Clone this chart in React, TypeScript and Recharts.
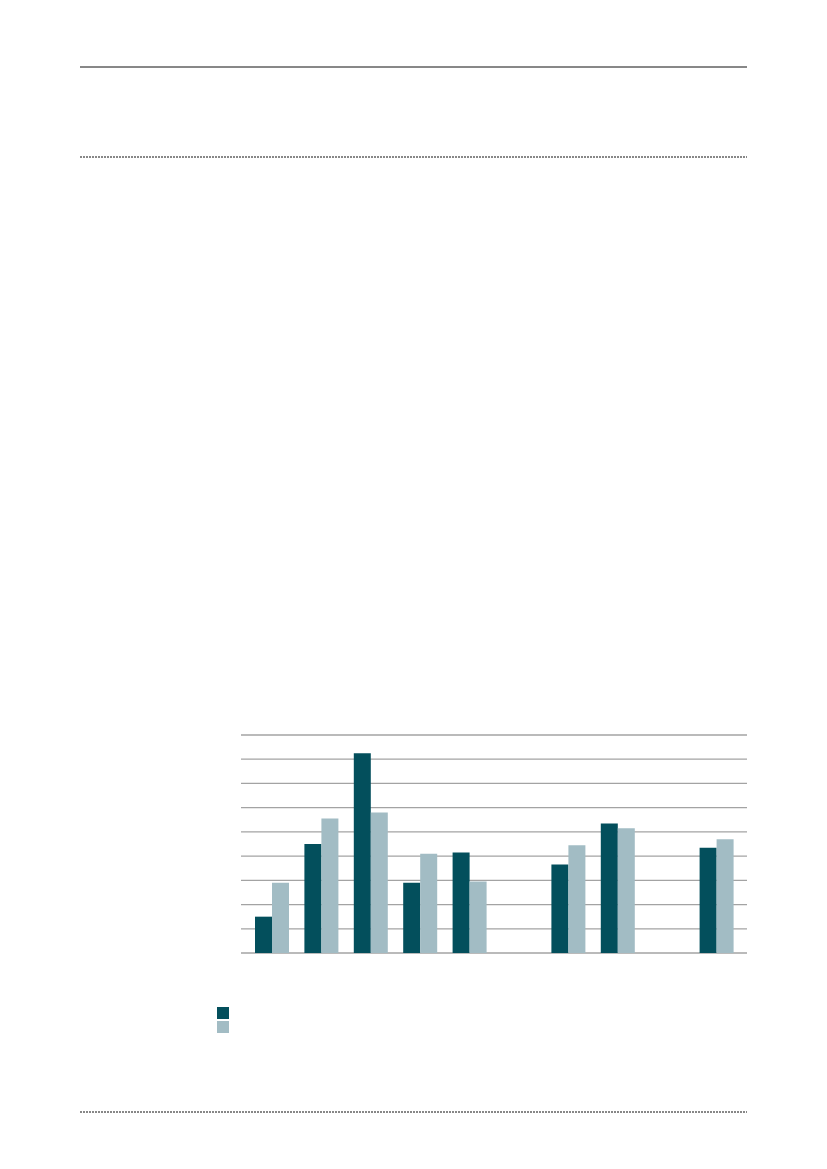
import React from "react";
import { BarChart, Bar, XAxis, YAxis, CartesianGrid } from "recharts";

// categories carry no visible labels in the source; two slots are empty
const categories = ["c1", "c2", "c3", "c4", "c5", "c6", "c7", "c8", "c9", "c10"];
const seriesA = [1.5, 4.5, 8.25, 2.9, 4.15, null, 3.65, 5.35, null, 4.35];
const seriesB = [2.9, 5.55, 5.8, 4.1, 2.95, null, 4.45, 5.15, null, 4.7];
const yTicks = [0, 1, 2, 3, 4, 5, 6, 7, 8, 9];

const DARK = "#034f5c";
const LIGHT = "#a2bcc4";

const data = categories.map((c, i) => ({ name: c, a: seriesA[i], b: seriesB[i] }));

function Rule({ top, dotted }: { top: number; dotted?: boolean }) {
  return (
    <svg style={{ position: "absolute", left: 80, top: top - 1, overflow: "visible" }} width={667} height={2}>
      <line
        x1={0}
        x2={667}
        y1={1}
        y2={1}
        stroke="#111"
        strokeWidth={1}
        strokeDasharray={dotted ? "2 1" : undefined}
      />
    </svg>
  );
}

export default function App() {
  return (
    <div style={{ position: "absolute", left: 0, top: 0, width: 827, height: 1169, background: "#fff" }}>
      <Rule top={67} />
      <Rule top={157} dotted />
      <Rule top={1112} dotted />

      <div style={{ position: "absolute", left: 236, top: 730 }}>
        <BarChart
          width={516}
          height={228}
          data={data}
          margin={{ top: 5, right: 5, left: 5, bottom: 5 }}
          barGap={0}
        >
          <CartesianGrid vertical={false} stroke="#a3a3a3" strokeWidth={1.3} />
          <XAxis dataKey="name" hide padding={{ left: 6, right: 6 }} />
          <YAxis hide domain={[0, 9]} ticks={yTicks} interval={0} />
          <Bar dataKey="a" fill={DARK} barSize={17} isAnimationActive={false} />
          <Bar dataKey="b" fill={LIGHT} barSize={17} isAnimationActive={false} />
        </BarChart>
      </div>

      {/* legend swatches, no text in source */}
      <div style={{ position: "absolute", left: 217, top: 1007, width: 12, height: 12, background: DARK }} />
      <div style={{ position: "absolute", left: 217, top: 1021, width: 12, height: 12, background: LIGHT }} />
    </div>
  );
}
